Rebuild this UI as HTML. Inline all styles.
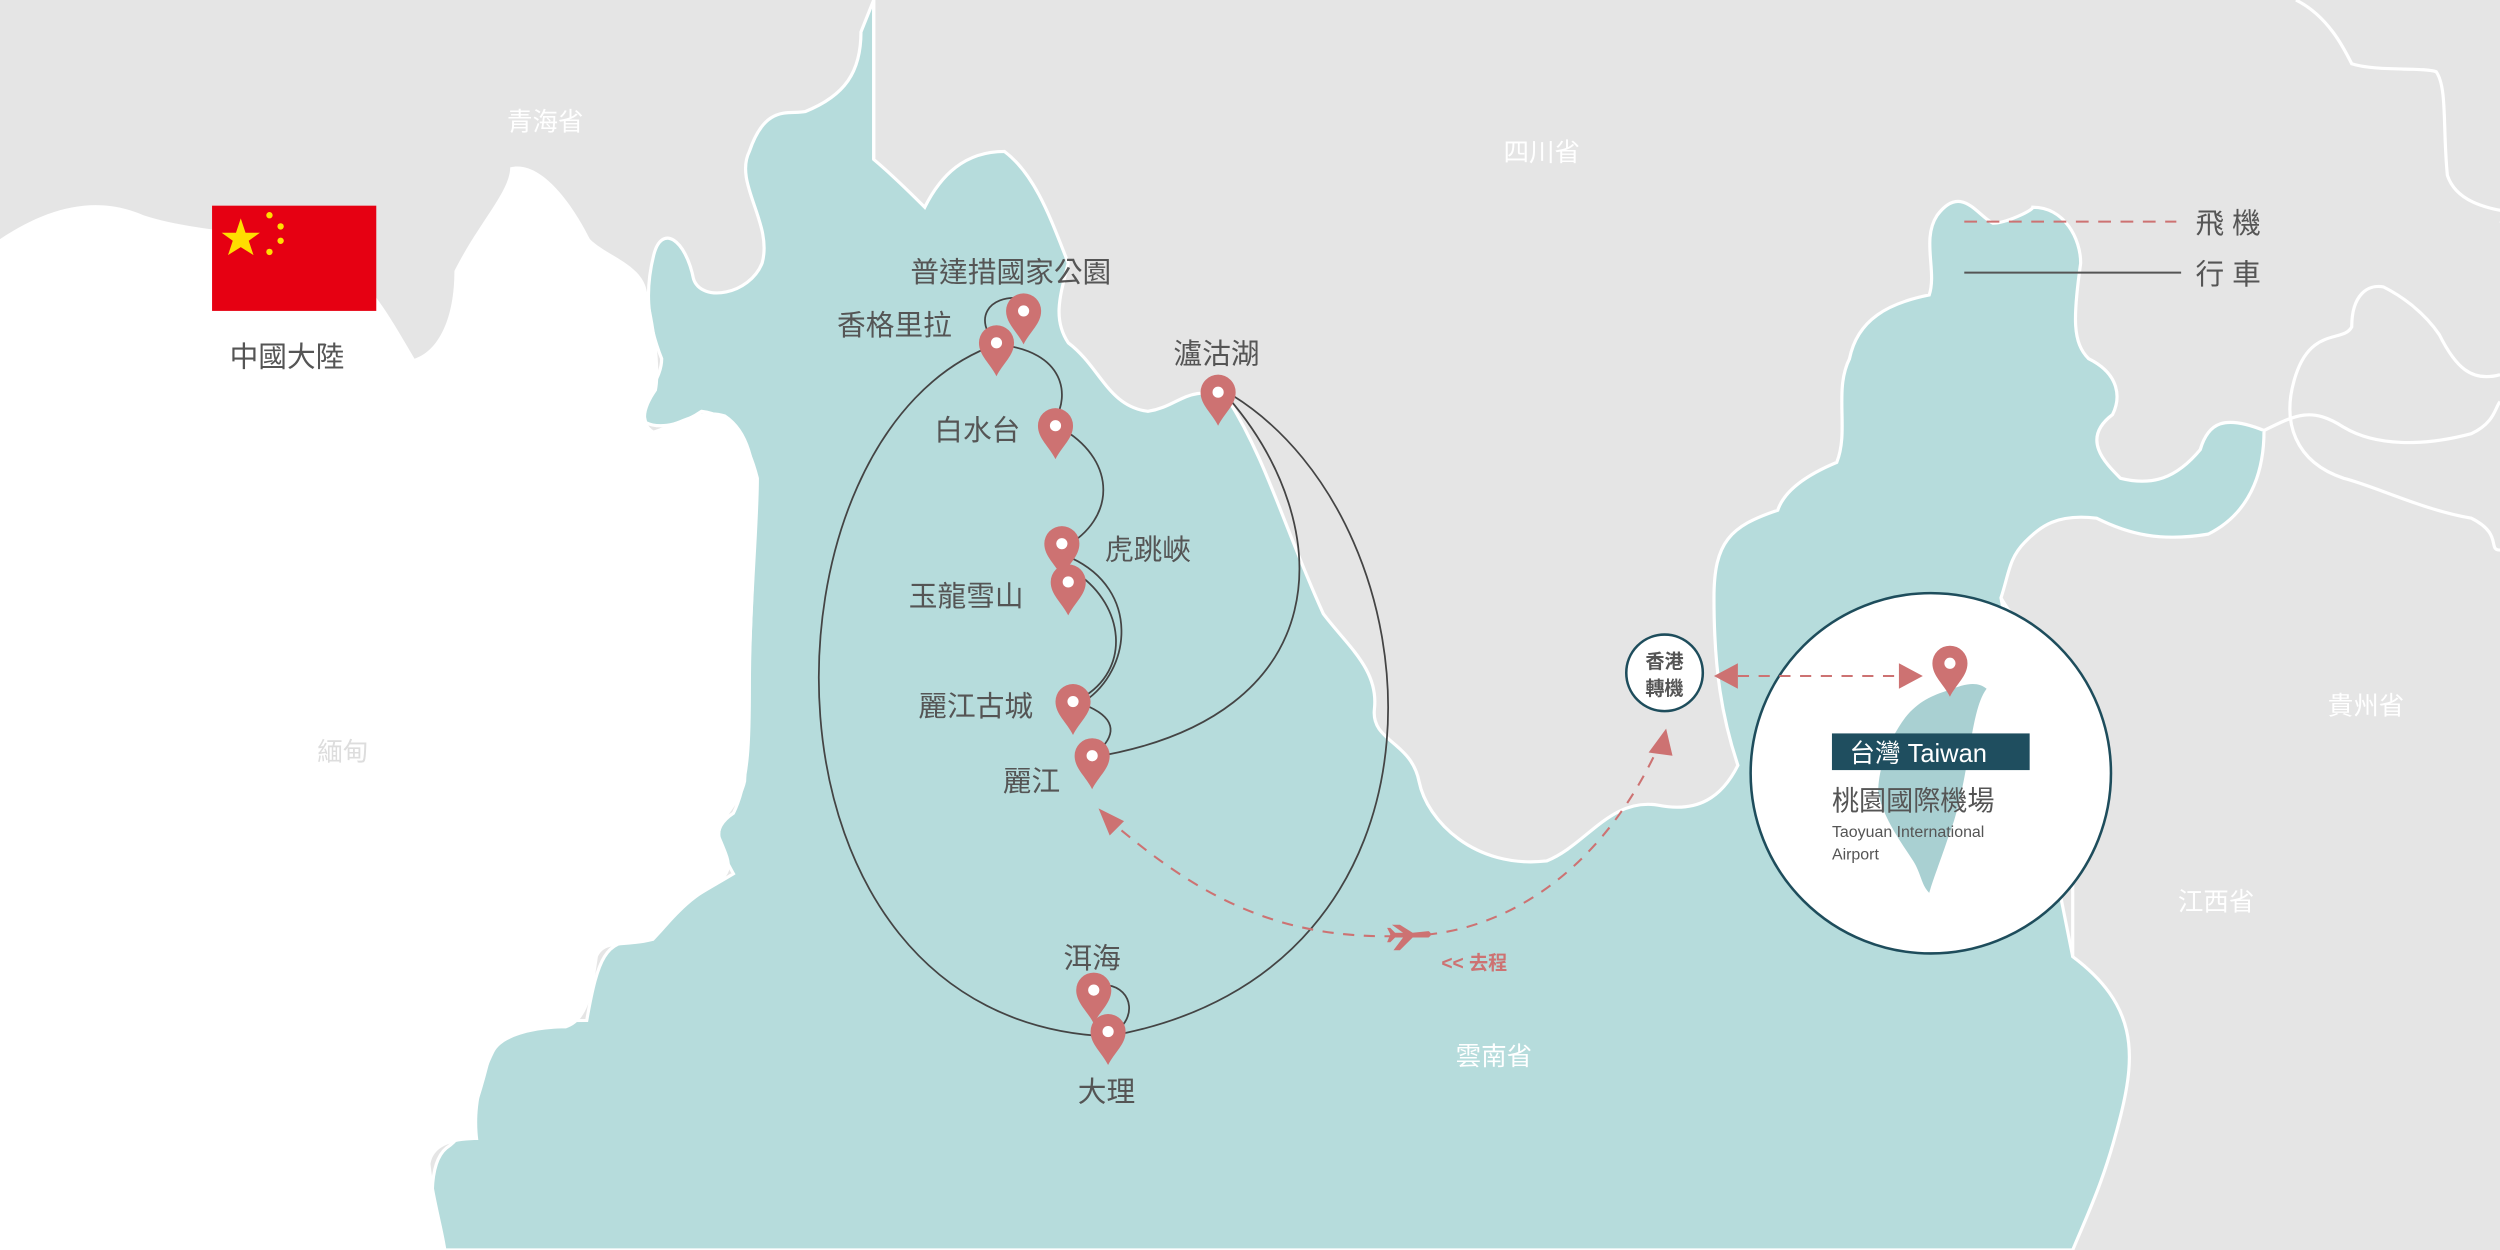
<!DOCTYPE html>
<html><head><meta charset="utf-8"><style>
html,body{margin:0;padding:0;width:2500px;height:1250px;overflow:hidden;background:#e5e5e5}
svg{display:block}
text{font-family:"Liberation Sans","Noto Sans CJK TC",sans-serif}
</style></head><body>
<svg width="2500" height="1250" viewBox="0 0 1568 784" xmlns="http://www.w3.org/2000/svg">
<defs>
<path id="pin" d="M0,0 C-4,-8 -11,-13 -11,-21 A11,11 0 1 1 11,-21 C11,-13 4,-8 0,0Z"/>
</defs>
<rect width="1568" height="784" fill="#e5e5e5"/>
<path fill="#b6dcdc" stroke="#fff" stroke-width="2" d="M405,265 C400,250 415,240 415,225 C405,200 405,180 410,160 C415,140 430,150 435,175 C440,190 470,185 478,165 C485,140 460,115 470,95 C480,65 495,72 505,70 C530,60 540,45 540,20 L548,0 L548,100 C560,110 575,125 580,130 C590,110 605,95 630,95 C650,110 660,140 670,165 C665,185 660,200 670,215 C690,230 695,255 720,258 C740,255 745,240 770,250 C795,290 805,330 830,385 C845,405 865,420 862,445 C860,465 885,465 890,490 C895,515 925,545 970,540 C995,530 1010,500 1040,505 C1065,510 1080,500 1090,480 C1080,450 1075,420 1075,375 C1075,340 1085,330 1115,320 C1120,305 1140,295 1152,290 C1160,270 1150,245 1160,225 C1165,200 1185,190 1210,185 C1215,170 1205,150 1215,135 C1230,115 1240,135 1250,140 C1258,140 1275,132 1275,130 C1295,130 1305,150 1305,165 C1300,200 1300,215 1310,225 C1330,235 1330,250 1325,260 C1305,275 1320,290 1330,300 C1350,305 1365,300 1380,282 C1385,265 1395,260 1420,270 C1420,290 1415,320 1385,335 C1355,340 1335,335 1315,325 C1290,322 1280,330 1270,340 C1260,350 1260,360 1255,375 L1300,600 C1340,630 1340,660 1330,700 C1320,740 1310,760 1300,784 L275,784 C270,760 268,730 280,720 C295,710 300,690 310,650 C320,640 340,640 368,640 C375,600 380,590 400,590 C420,570 440,560 460,548 C450,530 445,520 460,510 C470,490 470,460 470,430 C470,380 475,330 475,300 C470,280 460,260 440,258 C430,265 415,270 405,265Z"/>
<path fill="#fff" d="M0,150 C30,130 60,122 90,135 C120,145 160,145 200,155 C230,170 245,200 260,225 C275,220 285,200 285,170 C300,140 320,120 320,105 C340,100 360,130 370,150 C380,160 400,165 405,180 C410,200 415,230 412,245 C405,255 402,265 410,270 C425,265 440,255 455,260 C470,270 475,290 475,320 C472,380 470,440 468,490 C465,505 450,515 452,525 C458,540 462,545 450,555 C430,565 420,580 410,590 C390,595 380,590 375,600 C372,620 370,640 355,645 C335,645 315,650 310,660 C300,680 298,700 300,715 C285,715 272,718 270,730 C272,750 278,770 280,784 L0,784Z"/>
<g fill="none" stroke="#fff" stroke-width="2">
<path d="M548,0 L548,100"/>
<path d="M1440,0 C1460,10 1470,30 1475,40 C1490,45 1520,42 1528,45 C1535,55 1532,80 1535,110 C1545,140 1600,128 1568,140"/>
<path d="M1568,235 C1550,240 1540,230 1530,210 C1520,195 1505,185 1495,180 C1485,178 1475,185 1475,205 C1470,215 1450,205 1440,235 C1430,265 1440,290 1470,300 C1490,305 1520,320 1550,325 C1570,335 1560,345 1568,345"/>
<path d="M1420,270 C1440,260 1450,255 1470,268 C1490,280 1520,280 1550,272 C1565,265 1565,255 1568,252"/>
<path d="M1255,375 C1270,400 1290,420 1300,450 C1300,500 1300,560 1300,600"/>
</g>
<circle cx="1211" cy="485" r="113" fill="#fff" stroke="#1e4d5c" stroke-width="1.6"/>
<path fill="#a9d0d2" d="M1222,433 C1232,429 1240,427 1246,432 C1240,440 1238,455 1235,470 C1232,490 1228,510 1222,525 C1217,540 1213,550 1210,560 C1205,555 1205,548 1200,540 C1190,525 1181,512 1178,497 C1178,480 1186,462 1195,450 C1203,440 1212,436 1222,433Z"/>
<rect x="1149" y="460" width="124" height="23" fill="#1f4e5f"/>
<text x="1160" y="478" fill="#fff" font-size="16">台灣 Taiwan</text>
<text x="1149" y="508" fill="#555" font-size="17">桃園國際機場</text>
<text x="1149" y="525" fill="#555" font-size="10">Taoyuan International</text>
<text x="1149" y="539" fill="#555" font-size="10">Airport</text>
<circle cx="1044" cy="422" r="24" fill="#fff" stroke="#1e4d5c" stroke-width="1.6"/>
<text x="1044" y="419" fill="#555" font-size="12" font-weight="bold" text-anchor="middle">香港</text>
<text x="1044" y="436" fill="#555" font-size="12" font-weight="bold" text-anchor="middle">轉機</text>
<g fill="none" stroke="#444" stroke-width="1.1">
<path d="M625,216 C470,270 462,640 695,650"/>
<path d="M695,650 C925,610 905,330 773,248"/>
<path d="M770,249 C840,330 840,450 685,475"/>
<path d="M625,216 C670,220 670,250 662,262"/>
<path d="M668,270 C700,290 700,325 668,343"/>
<path d="M672,350 C715,370 710,420 680,440"/>
<path d="M676,360 C705,380 710,420 678,438"/>
<path d="M680,442 C700,450 700,460 690,470"/>
<path d="M625,216 C610,200 620,185 640,187"/>
<path d="M695,650 C715,640 710,620 695,618"/>
</g>
<g fill="#cd7272">
<use href="#pin" x="642" y="216"/><use href="#pin" x="625" y="236"/><use href="#pin" x="662" y="288"/>
<use href="#pin" x="666" y="362"/><use href="#pin" x="670" y="386"/><use href="#pin" x="673" y="461"/>
<use href="#pin" x="685" y="495"/><use href="#pin" x="686" y="642"/><use href="#pin" x="695" y="668"/>
<use href="#pin" x="764" y="267"/><use href="#pin" x="1223" y="437"/>
</g>
<g fill="#fff">
<circle cx="642" cy="195" r="3.5"/><circle cx="625" cy="215" r="3.5"/><circle cx="662" cy="267" r="3.5"/>
<circle cx="666" cy="341" r="3.5"/><circle cx="670" cy="365" r="3.5"/><circle cx="673" cy="440" r="3.5"/>
<circle cx="685" cy="474" r="3.5"/><circle cx="686" cy="621" r="3.5"/><circle cx="695" cy="647" r="3.5"/>
<circle cx="764" cy="246" r="3.5"/><circle cx="1223" cy="416" r="3.5"/>
</g>
<g fill="#555" font-size="18">
<text x="571" y="177">普達措國家公園</text>
<text x="525" y="210">香格里拉</text>
<text x="586" y="276">白水台</text>
<text x="693" y="351">虎跳峽</text>
<text x="570" y="380">玉龍雪山</text>
<text x="576" y="449">麗江古城</text>
<text x="629" y="496">麗江</text>
<text x="667" y="607">洱海</text>
<text x="676" y="691">大理</text>
<text x="736" y="228">瀘沽湖</text>
<text x="144" y="230">中國大陸</text>
<text x="1377" y="146">飛 機</text>
<text x="1377" y="178">行 車</text>
</g>
<g font-size="16">
<text x="318" y="82" fill="#fff">青海省</text>
<text x="943" y="101" fill="#fff">四川省</text>
<text x="199" y="477" fill="#ddd">緬甸</text>
<text x="1460" y="448" fill="#fff">貴州省</text>
<text x="1366" y="571" fill="#fff">江西省</text>
<text x="913" y="668" fill="#fff">雲南省</text>
</g>
<line x1="1232" y1="139" x2="1365" y2="139" stroke="#cd7272" stroke-width="1.3" stroke-dasharray="8,6"/>
<line x1="1232" y1="171" x2="1368" y2="171" stroke="#555" stroke-width="1.3"/>
<g stroke="#cd7272" stroke-width="1.3" fill="none" stroke-dasharray="7,6">
<path d="M1037,475 C1000,550 940,587 880,587 C800,590 750,560 700,518"/>
<path d="M1090,424 L1190,424"/>
</g>
<g fill="#cd7272">
<polygon points="1045,457 1034,472 1049,474"/>
<polygon points="689,507 705,515 696,524"/>
<polygon points="1075,424 1090,416 1090,432"/>
<polygon points="1206,424 1191,416 1191,432"/>
<path d="M873,580 L878,580 L886,585 L896,584 Q899,586 896,588 L886,588 L878,596 L874,596 L880,588 L875,588 L872,591 L870,591 L872,586 L870,582 L872,582 L875,585 L880,585Z"/>
</g>
<text x="904" y="608" fill="#cd7272" font-size="12" font-weight="bold">&lt;&lt; 去程</text>
<rect x="133" y="129" width="103" height="66" fill="#e60012"/>
<g fill="#ffde00">
<polygon points="151,137 154,146 163,146 156,151 159,160 151,155 143,160 146,151 139,146 148,146"/>
<circle cx="169" cy="135" r="2"/><circle cx="176" cy="142" r="2"/><circle cx="176" cy="151" r="2"/><circle cx="169" cy="158" r="2"/>
</g>
</svg>
</body></html>
